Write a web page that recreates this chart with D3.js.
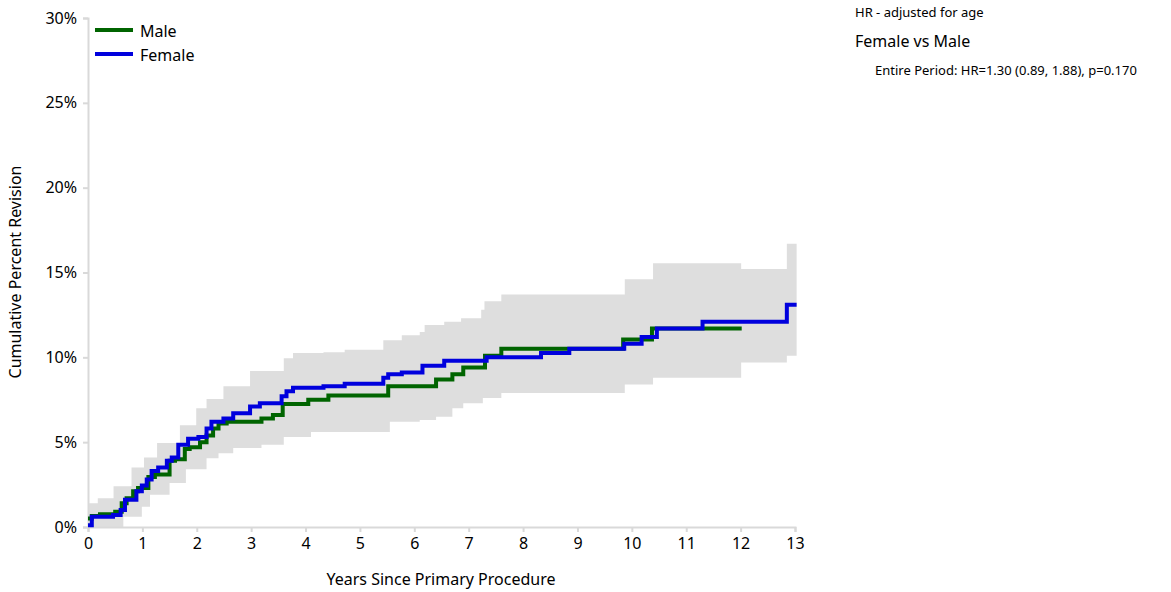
<!DOCTYPE html>
<html>
<head>
<meta charset="utf-8">
<script src="https://cdn.jsdelivr.net/npm/d3@7"></script>
<style>
  body { margin: 0; background: #fff; font-family: "Noto Sans", "Open Sans", sans-serif; }
  .tick text { font-size: 16px; fill: #000; }
</style>
</head>
<body>
<svg id="chart" width="1171" height="592"></svg>
<script>
// Kaplan-Meier style step data: [year, cumulative percent]
var maleSteps = [[0,0.5],[0.07,0.65],[0.22,0.75],[0.5,0.9],[0.62,1.4],[0.71,1.7],[0.83,2.1],[0.92,2.3],[1.11,2.95],[1.23,3.1],[1.5,3.9],[1.6,4.0],[1.78,4.6],[1.87,4.7],[2.06,5.0],[2.18,5.4],[2.3,5.8],[2.4,6.1],[2.55,6.2],[3.19,6.4],[3.4,6.6],[3.58,7.25],[4.05,7.5],[4.42,7.75],[5.52,8.3],[6.4,8.7],[6.7,9.0],[6.9,9.4],[7.3,10.1],[7.6,10.5],[9.84,11.05],[10.37,11.7],[12.02,11.7]];
var femaleSteps = [[0,0.1],[0.07,0.6],[0.46,0.7],[0.6,1.0],[0.68,1.6],[0.89,2.1],[0.99,2.45],[1.08,2.8],[1.17,3.3],[1.29,3.5],[1.45,3.9],[1.54,4.1],[1.66,4.85],[1.84,5.2],[2.03,5.3],[2.18,5.8],[2.27,6.2],[2.49,6.4],[2.67,6.7],[2.98,7.1],[3.16,7.3],[3.56,7.7],[3.65,8.0],[3.77,8.2],[4.33,8.3],[4.72,8.45],[5.43,8.8],[5.52,9.0],[5.77,9.1],[6.15,9.5],[6.55,9.8],[7.33,10.0],[8.33,10.25],[8.85,10.5],[9.86,10.8],[10.18,11.2],[10.46,11.7],[11.3,12.1],[12.85,13.1],[13.03,13.1]];
var bandUpper = [[0,1.4],[0.18,1.7],[0.47,2.4],[0.8,3.5],[1.03,4.1],[1.27,4.95],[1.69,6.0],[1.99,7.0],[2.18,7.55],[2.49,8.3],[2.98,9.2],[3.6,9.95],[3.77,10.25],[4.33,10.3],[4.72,10.45],[5.43,11.0],[5.77,11.3],[6.1,11.5],[6.19,11.9],[6.55,12.1],[6.86,12.3],[7.23,12.8],[7.29,13.3],[7.6,13.7],[9.87,14.6],[10.39,15.55],[12.01,15.2],[12.85,16.7],[13.03,16.7]];
var bandLower = [[0,0],[0.65,0.6],[0.99,1.2],[1.14,1.9],[1.5,2.6],[1.8,3.4],[2.18,4.05],[2.4,4.35],[2.67,4.65],[3.19,4.85],[3.6,5.3],[4.1,5.6],[5.55,6.2],[6.1,6.3],[6.4,6.5],[6.7,7.0],[6.9,7.3],[7.26,7.6],[7.6,7.9],[9.87,8.4],[10.39,8.8],[12.01,9.7],[12.85,10.1],[13.03,10.1]];
var xTicks = [0,1,2,3,4,5,6,7,8,9,10,11,12,13];
var yTicks = [0,5,10,15,20,25,30];
var seriesNames = ["Male","Female"];
var seriesColors = ["#006400","#0000dd"];

var svg = d3.select("#chart");
var x = d3.scaleLinear().domain([0,13]).range([88,795]);
var y = d3.scaleLinear().domain([0,30]).range([527,18]);

// confidence band
var area = d3.area()
  .curve(d3.curveStepAfter)
  .x(function(d) { return x(d[0]); })
  .y0(function(d) { return y(d[1]); })
  .y1(function(d) { return y(d[2]); });
// merge upper and lower on a shared set of breakpoints
var xs = Array.from(new Set(bandUpper.map(d => d[0]).concat(bandLower.map(d => d[0])))).sort((a,b) => a-b);
function stepAt(arr, t) { var v = arr[0][1]; arr.forEach(function(d) { if (d[0] <= t) v = d[1]; }); return v; }
var band = xs.map(function(t) { return [t, stepAt(bandLower, t), stepAt(bandUpper, t)]; });
svg.append("path").datum(band).attr("fill", "#dedede").attr("d", area);

// axes
svg.append("g").attr("transform", "translate(0,527)")
  .call(d3.axisBottom(x).tickValues(xTicks).tickSize(5).tickPadding(6));
svg.append("g").attr("transform", "translate(88,0)")
  .call(d3.axisLeft(y).tickValues(yTicks).tickFormat(d => d + "%").tickSize(5).tickPadding(6));
svg.selectAll(".domain, .tick line").attr("stroke", "#d9d9d9").attr("stroke-width", 2);
svg.selectAll(".tick text").style("font-family", "'Noto Sans', 'Open Sans', sans-serif");

// lines
var line = d3.line().curve(d3.curveStepAfter).x(d => x(d[0])).y(d => y(d[1]));
[maleSteps, femaleSteps].forEach(function(s, i) {
  svg.append("path").datum(s).attr("fill", "none")
    .attr("stroke", seriesColors[i]).attr("stroke-width", 4).attr("d", line);
});

// legend
seriesNames.forEach(function(n, i) {
  var ly = 33 + i * 24;
  svg.append("line").attr("x1", 95).attr("x2", 133).attr("y1", ly - 3).attr("y2", ly - 3)
    .attr("stroke", seriesColors[i]).attr("stroke-width", 4);
  svg.append("text").attr("x", 140).attr("y", ly + 4).attr("font-size", 16).text(n);
});

// axis titles
svg.append("text").attr("x", 441).attr("y", 585).attr("text-anchor", "middle")
  .attr("font-size", 16).text("Years Since Primary Procedure");
svg.append("text").attr("transform", "translate(21,272) rotate(-90)").attr("text-anchor", "middle")
  .attr("font-size", 16).text("Cumulative Percent Revision");

// HR annotation
svg.append("text").attr("x", 855).attr("y", 17).attr("font-size", 13).text("HR - adjusted for age");
svg.append("text").attr("x", 855).attr("y", 47).attr("font-size", 16).text("Female vs Male");
svg.append("text").attr("x", 875).attr("y", 75).attr("font-size", 13).text("Entire Period: HR=1.30 (0.89, 1.88), p=0.170");
</script>
</body>
</html>
